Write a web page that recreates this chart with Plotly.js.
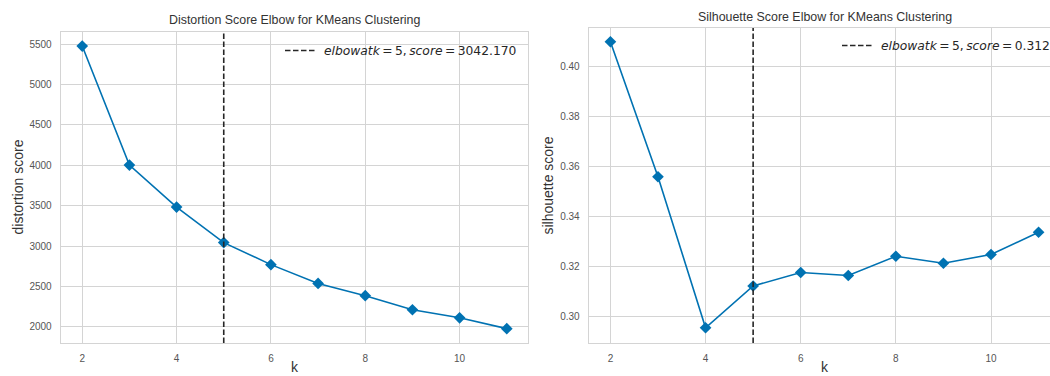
<!DOCTYPE html>
<html>
<head>
<meta charset="utf-8">
<script src="https://cdn.plot.ly/plotly-3.0.1.min.js"></script>
<style>html,body{margin:0;padding:0;background:#fff;}#chart{width:1050px;height:376px;}</style>
</head>
<body>
<div id="chart"></div>
<script>
// ---- data ----
const kValues = [2, 3, 4, 5, 6, 7, 8, 9, 10, 11];
const distortionScores = [5478, 4003, 3482, 3042.17, 2769, 2536, 2384, 2210, 2110, 1976];
const silhouetteScores = [0.4097, 0.3557, 0.2953, 0.3120, 0.3174, 0.3162, 0.3239, 0.3211, 0.3246, 0.3335];
const elbowK = 5;
const elbowDistortion = 3042.170;
const elbowSilhouette = 0.312;
const distortionTicks = [2000, 2500, 3000, 3500, 4000, 4500, 5000, 5500];
const silhouetteTicks = [0.30, 0.32, 0.34, 0.36, 0.38, 0.40];
const kTicks = [2, 4, 6, 8, 10];

const leftYRange = [1798, 5652];
const rightYRange = [0.2892, 0.4152];

const W = 1050, H = 376;
const px = v => v / W;
const py = v => (H - v) / H;

const blue = '#0072B2';
const grid = '#d4d4d4';
const tickFont = {family: 'Liberation Sans, Arial, sans-serif', size: 10, color: '#555555'};
const labFont = {family: 'Liberation Sans, Arial, sans-serif', size: 14, color: '#333333'};
const legFont = {family: 'DejaVu Sans, sans-serif', size: 12.3, color: '#262626'};
const titleFont = {family: 'Liberation Sans, Arial, sans-serif', size: 12.4, color: '#333333'};

const legendName = (k, s) => '&nbsp;<i>elbowatk</i>\u2009=\u2009' + k + ',\u2009<i>score</i>\u2009=\u2009' + s;

const traces = [
  {x: kValues, y: distortionScores, xaxis: 'x', yaxis: 'y', mode: 'lines+markers', showlegend: false,
   line: {color: blue, width: 1.6}, marker: {symbol: 'diamond', size: 9, color: blue}},
  {x: [elbowK, elbowK], y: leftYRange, xaxis: 'x', yaxis: 'y', mode: 'lines', legend: 'legend',
   name: legendName(elbowK, elbowDistortion.toFixed(3)),
   line: {color: '#262626', width: 1.6, dash: '5.5px,2.5px'}},
  {x: kValues, y: silhouetteScores, xaxis: 'x2', yaxis: 'y2', mode: 'lines+markers', showlegend: false,
   line: {color: blue, width: 1.6}, marker: {symbol: 'diamond', size: 9, color: blue}},
  {x: [elbowK, elbowK], y: rightYRange, xaxis: 'x2', yaxis: 'y2', mode: 'lines', legend: 'legend2',
   name: legendName(elbowK, elbowSilhouette.toFixed(3)),
   line: {color: '#262626', width: 1.6, dash: '5.5px,2.5px'}}
];

const axisCommon = {
  showgrid: true, gridcolor: grid, gridwidth: 1, zeroline: false,
  showline: true, linecolor: grid, linewidth: 1.3,
  ticks: '', tickfont: tickFont, ticklabelstandoff: 6, automargin: false
};

const ann = (text, x, y, extra) => Object.assign({
  text: text, xref: 'paper', yref: 'paper', x: px(x), y: py(y),
  xanchor: 'center', yanchor: 'middle', showarrow: false, font: labFont
}, extra || {});

const layout = {
  width: W, height: H,
  margin: {l: 0, r: 0, t: 0, b: 0, autoexpand: false},
  paper_bgcolor: '#ffffff', plot_bgcolor: '#ffffff',
  xaxis: Object.assign({}, axisCommon, {
    domain: [px(61), px(528)], range: [1.55, 11.45], anchor: 'y', mirror: true,
    tickvals: kTicks, ticktext: kTicks.map(String)
  }),
  yaxis: Object.assign({}, axisCommon, {
    domain: [py(343), py(32)], range: leftYRange, anchor: 'x', mirror: true,
    tickvals: distortionTicks, ticktext: distortionTicks.map(String)
  }),
  xaxis2: Object.assign({}, axisCommon, {
    domain: [px(589), 1], range: [1.55, 11.24], anchor: 'y2', mirror: true,
    tickvals: kTicks, ticktext: kTicks.map(String)
  }),
  yaxis2: Object.assign({}, axisCommon, {
    domain: [py(343), py(28)], range: rightYRange, anchor: 'x2', mirror: false,
    tickvals: silhouetteTicks, ticktext: silhouetteTicks.map(v => v.toFixed(2))
  }),
  legend: {x: px(522), y: py(36), xanchor: 'right', yanchor: 'top', bgcolor: 'rgba(0,0,0,0)',
           font: legFont, borderwidth: 0},
  legend2: {x: px(1055), y: py(31), xanchor: 'right', yanchor: 'top', bgcolor: 'rgba(0,0,0,0)',
            font: legFont, borderwidth: 0},
  annotations: [
    ann('Distortion Score Elbow for KMeans Clustering', 294.5, 20, {font: titleFont}),
    ann('Silhouette Score Elbow for KMeans Clustering', 824.5, 17, {font: titleFont}),
    ann('k', 294.5, 376, {yanchor: 'bottom', borderpad: 0}),
    ann('k', 824.5, 376, {yanchor: 'bottom', borderpad: 0}),
    ann('distortion score', 17, 187.5, {textangle: -90}),
    ann('silhouette score', 547, 185.5, {textangle: -90})
  ]
};

Plotly.newPlot('chart', traces, layout, {displayModeBar: false, staticPlot: true});
</script>
</body>
</html>
